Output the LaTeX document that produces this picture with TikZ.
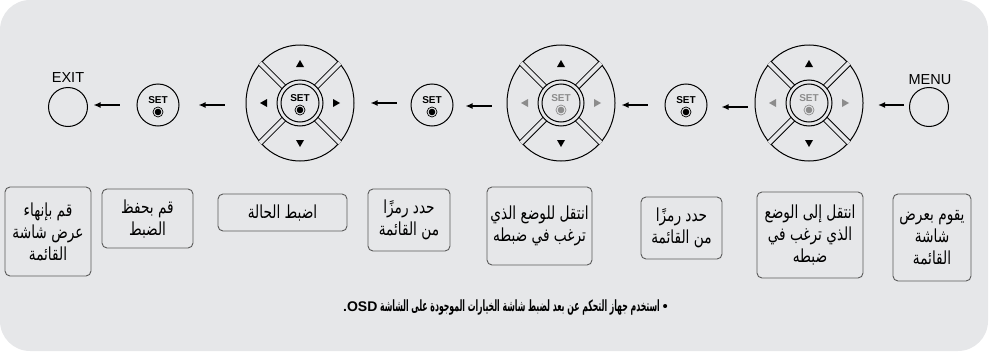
\documentclass[tikz,border=0pt]{standalone}
\usepackage{fontspec}
\setmainfont{Liberation Sans}
\newfontfamily\arabicfont[Script=Arabic, FakeStretch=0.76]{DejaVu Sans}
\newfontfamily\notefont[Script=Arabic, FakeStretch=0.5]{DejaVu Sans}
\TeXXeTstate=1
\usetikzlibrary{shapes.geometric,arrows.meta,calc}

\definecolor{panelgray}{RGB}{230,231,233}
\definecolor{boxline}{RGB}{90,90,90}
\definecolor{dimkey}{RGB}{140,140,140}

\newcommand{\rl}[1]{\beginR #1\endR}

% SET text with the round dot under it
\newcommand{\setmark}[2]{%
  \node[font=\bfseries\fontsize{10}{10}\selectfont, text=#2, inner sep=0pt] at ($#1+(0,-5)$) {SET};
  \draw[#2, line width=0.7pt] ($#1+(0,7)$) circle (5pt);
  \fill[#2] ($#1+(0,7)$) circle (3.3pt);
}

% four-way pad: name, centre, colour of left/right keys
\newcommand{\remotepad}[3]{%
  \node[ellipse, draw, line width=1pt, minimum width=108pt, minimum height=116pt, inner sep=0pt] (#1) at #2 {};
  \begin{scope}
    \clip #2 ellipse (54.7pt and 58.7pt);
    \foreach \a in {45,135,225,315}
      \draw[line width=1pt, double=panelgray, double distance=4pt] #2 ++(\a:21) -- ++(\a:50);
  \end{scope}
  \fill[panelgray, even odd rule] #2 circle (23pt) #2 circle (19pt);
  \draw[line width=1pt] #2 circle (23pt) #2 circle (19pt);
  \fill ($#2+(0,-43)$) -- ($#2+(4,-36)$) -- ($#2+(-4,-36)$) -- cycle;
  \fill ($#2+(0,44)$) -- ($#2+(4,37)$) -- ($#2+(-4,37)$) -- cycle;
  \fill[#3] ($#2+(-40,0)$) -- ($#2+(-33,-4)$) -- ($#2+(-33,4)$) -- cycle;
  \fill[#3] ($#2+(40,0)$) -- ($#2+(33,-4)$) -- ($#2+(33,4)$) -- cycle;
  \setmark{#2}{#3}
}

\tikzset{
  hint/.style={draw=boxline, rounded corners=5pt, line width=0.9pt, align=center,
    inner sep=1pt, font=\arabicfont\fontsize{18}{22}\selectfont},
  setbtn/.style={circle, draw, line width=1pt, minimum size=42pt, inner sep=0pt},
  keybtn/.style={circle, draw, line width=1pt, minimum size=39pt, inner sep=0pt},
  keyname/.style={font=\fontsize{14.5}{14.5}\selectfont},
  arr/.style={-{Latex[length=7pt,width=6pt]}, line width=1.4pt},
}

\begin{document}
\begin{tikzpicture}[x=1pt, y=-1pt]
    \useasboundingbox (0,0) rectangle (990,356);
    \fill[panelgray, rounded corners=30pt] (0,0) rectangle (988,351);

    % keys along the top, from EXIT on the left to MENU on the right
    \node[keybtn] (exit) at (68,107) {};
    \node[keyname] (exitname) at (68,78) {EXIT};
    \node[setbtn] (set1) at (158,105) {};
    \setmark{(158,105)}{black}
    \remotepad{pad1}{(300,103)}{black}
    \node[setbtn] (set2) at (432,105) {};
    \setmark{(432,105)}{black}
    \remotepad{pad2}{(561,103)}{dimkey}
    \node[setbtn] (set3) at (686,105) {};
    \setmark{(686,105)}{black}
    \remotepad{pad3}{(809,103)}{dimkey}
    \node[keybtn] (menu) at (929,107) {};
    \node[keyname] (menuname) at (930,80) {MENU};

    \draw[arr] (set1.west) ++(-17,0) -- ++(-26,0);
    \draw[arr] (pad1.west) ++(-21,2) -- ++(-26,0);
    \draw[arr] (set2.west) ++(-14,-2) -- ++(-26,0);
    \draw[arr] (pad2.west) ++(-15,3) -- ++(-26,0);
    \draw[arr] (set3.west) ++(-17,0) -- ++(-26,0);
    \draw[arr] (pad3.west) ++(-7,4) -- ++(-26,0);
    \draw[arr] (menu.west) ++(-5,-2) -- ++(-26,0);

    % what each step does
    \node[hint, minimum width=86pt, minimum height=89pt] (step8) at (48,231.5)
        {\rl{قم بإنهاء}\\\rl{عرض شاشة}\\\rl{القائمة}};
    \node[hint, minimum width=91pt, minimum height=59pt] (step7) at (147.5,218.5)
        {\rl{قم بحفظ}\\\rl{الضبط}};
    \node[hint, minimum width=129pt, minimum height=37pt] (step6) at (282.5,212.5)
        {\rl{اضبط الحالة}};
    \node[hint, minimum width=82pt, minimum height=62pt] (step5) at (409,220)
        {\rl{حدد رمزًا}\\\rl{من القائمة}};
    \node[hint, minimum width=105pt, minimum height=78pt] (step4) at (539.5,226)
        {\rl{انتقل للوضع الذي}\\\rl{ترغب في ضبطه}};
    \node[hint, minimum width=81pt, minimum height=62pt] (step3) at (681.5,228)
        {\rl{حدد رمزًا}\\\rl{من القائمة}};
    \node[hint, minimum width=106pt, minimum height=86pt] (step2) at (810,235)
        {\rl{انتقل إلى الوضع}\\\rl{الذي ترغب في}\\\rl{ضبطه}};
    \node[hint, minimum width=78pt, minimum height=87pt] (step1) at (932,237.5)
        {\rl{يقوم بعرض}\\\rl{شاشة}\\\rl{القائمة}};

    \node[anchor=east, inner sep=0pt, font=\notefont\bfseries\fontsize{15.5}{15.5}\selectfont] (note) at (668,308)
        {\beginR{\normalfont\fontsize{15}{15}\selectfont•}\ استخدم جهاز التحكم عن بعد لضبط شاشة الخيارات الموجودة على الشاشة \beginL{\normalfont\bfseries\fontsize{14}{14}\selectfont OSD}\endL{\normalfont\bfseries\fontsize{14}{14}\selectfont.}\endR};
\end{tikzpicture}
\end{document}
